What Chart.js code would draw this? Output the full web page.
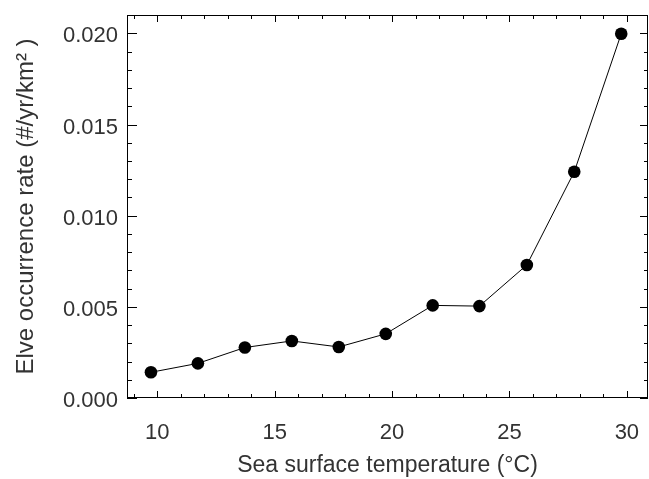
<!DOCTYPE html>
<html>
<head>
<meta charset="utf-8">
<script src="https://cdn.jsdelivr.net/npm/chart.js@4"></script>
<style>
  html, body { margin: 0; padding: 0; background: #fff; }
  #wrap { width: 649px; height: 479px; }
</style>
</head>
<body>
<div id="wrap"><canvas id="myChart"></canvas></div>
<script>
// sea surface temperature (deg C) and elve occurrence rate (#/yr/km^2)
const sstValues = [9.73, 11.73, 13.73, 15.73, 17.73, 19.73, 21.73, 23.72, 25.74, 27.76, 29.76];
const rateValues = [0.00141, 0.0019, 0.00277, 0.00313, 0.0028, 0.00352, 0.00508, 0.00504, 0.0073, 0.01241, 0.01998];
const xTickValues = [10, 15, 20, 25, 30];
const yTickValues = [0.000, 0.005, 0.010, 0.015, 0.020];

const ctx = document.getElementById('myChart');
const textColor = '#333';
const fontFam = '"Liberation Sans", Arial, Helvetica, sans-serif';

let points = [];
for (let i = 0; i < sstValues.length; i++) {
    points.push({ x: sstValues[i], y: rateValues[i] });
}

// box + inward ticks like the IDL plot
const boxTicks = {
    id: 'boxTicks',
    afterDraw(chart) {
        const c = chart.ctx;
        const a = chart.chartArea;
        const xs = chart.scales.x;
        const ys = chart.scales.y;
        c.save();
        c.strokeStyle = '#000';
        c.lineWidth = 1;
        c.strokeRect(a.left + 0.5, a.top + 0.5, a.right - a.left - 1, a.bottom - a.top - 1);
        c.beginPath();
        for (let v = 9; v <= 30; v++) {
            const px = Math.round(xs.getPixelForValue(v)) + 0.5;
            const len = (v % 5 == 0) ? 7 : 4;
            c.moveTo(px, a.bottom); c.lineTo(px, a.bottom - len);
            c.moveTo(px, a.top); c.lineTo(px, a.top + len);
        }
        for (let k = 0; k <= 20; k++) {
            const py = Math.round(ys.getPixelForValue(k / 1000)) + 0.5;
            const major = (k % 5 == 0);
            c.moveTo(a.left, py); c.lineTo(a.left + (major ? 10 : 5), py);
            c.moveTo(a.right, py); c.lineTo(a.right - (major ? 8 : 4), py);
        }
        c.stroke();
        c.restore();
    }
};

const myChart = new Chart(ctx, {
    type: 'line',
    data: {
        datasets: [{
            label: 'Elve occurrence rate',
            data: points,
            borderColor: '#000',
            backgroundColor: '#000',
            borderWidth: 1,
            pointRadius: 6.3,
            pointHoverRadius: 6.3,
            pointBorderWidth: 0,
            tension: 0
        }]
    },
    options: {
        responsive: true,
        maintainAspectRatio: false,
        animation: false,
        layout: { autoPadding: false, padding: { top: 15, right: 1, left: 0, bottom: 0 } },
        plugins: { legend: { display: false }, tooltip: { enabled: false } },
        scales: {
            x: {
                type: 'linear',
                min: 8.71,
                max: 30.9,
                afterBuildTicks: (scale) => { scale.ticks = xTickValues.map(v => ({ value: v })); },
                afterFit: (scale) => { scale.height = 81; scale.paddingLeft = 0; scale.paddingRight = 0; },
                grid: { display: false, drawTicks: false },
                border: { display: false },
                ticks: {
                    color: textColor,
                    font: { family: fontFam, size: 22 },
                    padding: 22,
                    maxRotation: 0
                },
                title: {
                    display: true,
                    text: 'Sea surface temperature (\u00B0C)',
                    color: textColor,
                    font: { family: fontFam, size: 23 },
                    padding: { top: 0, bottom: 0 }
                }
            },
            y: {
                min: 0,
                max: 0.02101,
                afterBuildTicks: (scale) => { scale.ticks = yTickValues.map(v => ({ value: v })); },
                afterFit: (scale) => { scale.width = 127; scale.paddingTop = 0; scale.paddingBottom = 0; },
                grid: { display: false, drawTicks: false },
                border: { display: false },
                ticks: {
                    color: textColor,
                    font: { family: fontFam, size: 22 },
                    padding: 9,
                    labelOffset: 3,
                    callback: (v) => Number(v).toFixed(3)
                },
                title: {
                    display: true,
                    text: 'Elve occurrence rate (#/yr/km\u00B2 )',
                    color: textColor,
                    font: { family: fontFam, size: 24 },
                    padding: { top: 12, bottom: 0 }
                }
            }
        }
    },
    plugins: [boxTicks]
});
</script>
</body>
</html>
